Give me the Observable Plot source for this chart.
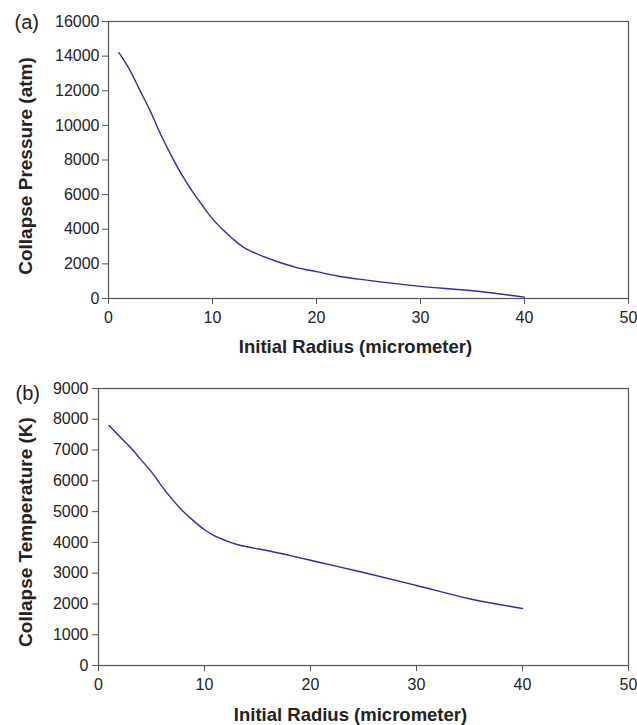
<!DOCTYPE html>
<html>
<head>
<meta charset="utf-8">
<script src="https://cdn.jsdelivr.net/npm/d3@7"></script>
<script src="https://cdn.jsdelivr.net/npm/@observablehq/plot@0.6"></script>
<style>
  html, body { margin: 0; padding: 0; background: #fff; }
  #chart svg { display: block; }
</style>
</head>
<body>
<div id="chart"></div>
<script>
// Panel (a): collapse pressure vs initial radius
const radiusA = [1, 2, 3, 4, 5, 6, 7, 8, 9, 10, 11, 12, 13, 14, 16, 18, 20, 22, 25, 30, 35, 40];
const pressure = [14200, 13250, 12050, 10850, 9500, 8300, 7200, 6250, 5400, 4600, 3970, 3420, 2950, 2650, 2180, 1800, 1550, 1300, 1050, 700, 450, 80];

// Panel (b): collapse temperature vs initial radius
const radiusB = [1, 2, 3, 4, 5, 6, 7, 8, 9, 10, 11, 12, 13, 14, 16, 18, 21, 25, 30, 35, 40];
const temperature = [7800, 7440, 7090, 6690, 6290, 5810, 5380, 5000, 4690, 4410, 4200, 4060, 3940, 3860, 3730, 3580, 3340, 3020, 2600, 2170, 1850];

const xTicks = [0, 10, 20, 30, 40, 50];
const yTicksA = [0, 2000, 4000, 6000, 8000, 10000, 12000, 14000, 16000];
const yTicksB = [0, 1000, 2000, 3000, 4000, 5000, 6000, 7000, 8000, 9000];

const xTitle = "Initial Radius (micrometer)";
const yTitleA = "Collapse Pressure (atm)";
const yTitleB = "Collapse Temperature (K)";

const dataA = radiusA.map((r, i) => ({r, v: pressure[i]}));
const dataB = radiusB.map((r, i) => ({r, v: temperature[i]}));

const FONT = "'Liberation Sans', Arial, sans-serif";
const AXIS = "#555";
const LINE = "#2b2ba3";
const TEXT = "#222";

function panel({data, yDomain, yTicks, yTitle, tag, height, mTop, mLeft, mBottom, yPad, xTitleDy, yTitleDy, tagDx, tagDy}) {
  return Plot.plot({
    width: 637,
    height,
    marginTop: mTop,
    marginLeft: mLeft,
    marginRight: 9,
    marginBottom: mBottom,
    style: {fontFamily: FONT, fontSize: "16px", color: TEXT, background: "#fff"},
    x: {domain: [0, 50]},
    y: {domain: yDomain},
    marks: [
      Plot.frame({stroke: AXIS, strokeWidth: 1.2}),
      Plot.axisX({ticks: xTicks, tickSize: 6, tickPadding: 7, tickFormat: d => String(d), label: null, stroke: AXIS, fill: TEXT}),
      Plot.axisY({ticks: yTicks, tickSize: 6, tickPadding: yPad, tickFormat: d => String(d), label: null, stroke: AXIS, fill: TEXT}),
      Plot.line(data, {x: "r", y: "v", stroke: LINE, strokeWidth: 1.4, curve: "monotone-x"}),
      Plot.text([yTitle], {frameAnchor: "left", dx: -(mLeft - 25), dy: yTitleDy, rotate: -90, textAnchor: "middle", lineAnchor: "middle", fontWeight: "bold", fontSize: 19, fill: TEXT}),
      Plot.text([xTitle], {frameAnchor: "bottom", dx: -13, dy: xTitleDy, textAnchor: "middle", lineAnchor: "middle", fontWeight: "bold", fontSize: 18.5, fill: TEXT}),
      Plot.text([tag], {frameAnchor: "top-left", dx: tagDx - mLeft, dy: tagDy, textAnchor: "start", lineAnchor: "middle", fontSize: 20, fill: TEXT})
    ]
  });
}

const chart = document.getElementById("chart");
chart.append(panel({data: dataA, yDomain: [0, 16000], yTicks: yTicksA, yTitle: yTitleA, tag: "(a)",
  height: 360, mTop: 21, mLeft: 108, mBottom: 62, yPad: 3, xTitleDy: 49, yTitleDy: 6, tagDx: 14, tagDy: 1.5}));
chart.append(panel({data: dataB, yDomain: [0, 9000], yTicks: yTicksB, yTitle: yTitleB, tag: "(b)",
  height: 365, mTop: 28, mLeft: 98, mBottom: 60, yPad: 4, xTitleDy: 50, yTitleDy: 5, tagDx: 15, tagDy: 5}));
</script>
</body>
</html>
